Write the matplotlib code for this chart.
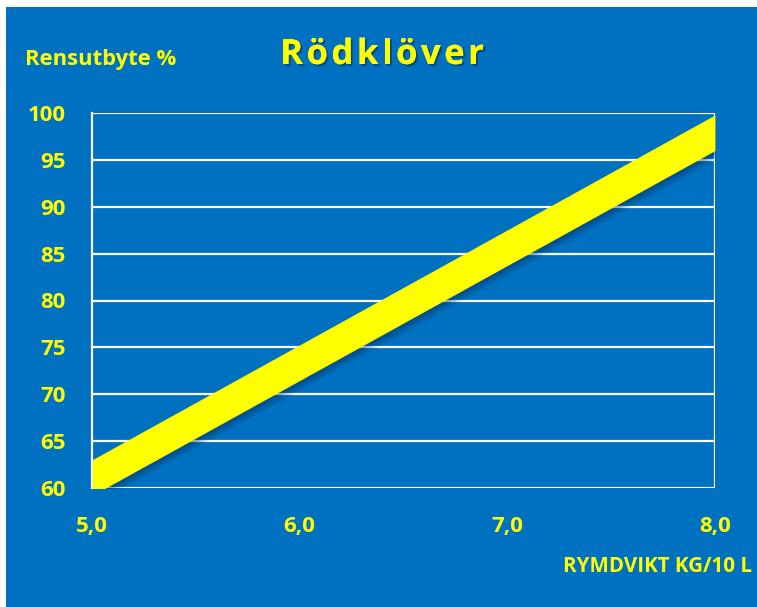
import numpy as np
import matplotlib
matplotlib.use('Agg')
import matplotlib.pyplot as plt
import matplotlib.patheffects as pe

# data
rymdvikt = [5.0, 8.0]
band_low = [59.2, 96.0]
band_high = [63.0, 99.8]
x_ticks = [5.0, 6.0, 7.0, 8.0]
x_labels = ["5,0", "6,0", "7,0", "8,0"]
y_ticks = [60, 65, 70, 75, 80, 85, 90, 95, 100]

BLUE = '#0070C0'
YELLOW = '#FFFF00'
FONT = 'Open Sans'
W, H = 757, 607

fig = plt.figure(figsize=(W / 100, H / 100), dpi=100)
fig.patch.set_facecolor('white')
# blue panel, leaving a thin white strip at top and left
bg = fig.add_axes([6/W, 0, 751/W, 600/H])
bg.set_facecolor(BLUE)
bg.set_xticks([]); bg.set_yticks([])
for s in bg.spines.values(): s.set_visible(False)

ax = fig.add_axes([92/W, 1 - 488/H, 623/W, 375/H])
ax.set_facecolor(BLUE)
ax.set_xlim(5.0, 8.0)
ax.set_ylim(60, 100)

for y in y_ticks:
    ax.axhline(y, color='white', lw=1.6, zorder=1)
ax.axvline(8.0, color='white', lw=1.6, zorder=1)
for s in ['top', 'right', 'bottom']:
    ax.spines[s].set_visible(False)
ax.spines['left'].set_color('white')
ax.spines['left'].set_linewidth(1.6)

# soft shadow under the band
xs = np.array(rymdvikt)
for k, a in [(0.9, 0.12), (0.6, 0.15), (0.3, 0.2)]:
    ax.fill_between(xs + 0.01, np.array(band_low) - k, np.array(band_high) - k,
                    color='#002a50', alpha=a, lw=0, zorder=2)
ax.fill_between(rymdvikt, band_low, band_high, color=YELLOW, lw=0, zorder=3)

ax.set_xticks(x_ticks)
ax.set_xticklabels(x_labels)
ax.set_yticks(y_ticks)
ax.tick_params(length=0, colors=YELLOW, labelsize=16)
ax.tick_params(axis='y', pad=19)
ax.tick_params(axis='x', pad=20)
for lab in ax.get_xticklabels() + ax.get_yticklabels():
    lab.set_fontweight('bold')
    lab.set_fontfamily(FONT)
    lab.set_color(YELLOW)

# title with letter spacing, one glyph at a time
title = 'Rödklöver'
renderer = fig.canvas.get_renderer()
shadow = [pe.withSimplePatchShadow(offset=(1.5, -1.5), shadow_rgbFace='#002a50', alpha=0.5), pe.Normal()]
widths = []
for ch in title:
    t = fig.text(0, 0, ch, fontsize=25, fontweight='bold', family=FONT)
    widths.append(t.get_window_extent(renderer).width)
    t.remove()
gap = 3.5
total = sum(widths) + gap * (len(title) - 1)
x0 = 382 - total / 2
for ch, w in zip(title, widths):
    fig.text(x0 / W, 1 - 55/H, ch, color=YELLOW, fontsize=25, fontweight='bold',
             family=FONT, ha='left', va='center', path_effects=shadow)
    x0 += w + gap

fig.text(25/W, 1 - 60/H, 'Rensutbyte %', color=YELLOW, fontsize=15.8,
         fontweight='bold', family=FONT, ha='left', va='center')
fig.text(752/W, 1 - 567/H, 'RYMDVIKT KG/10 L', color=YELLOW, fontsize=14.8,
         fontweight='bold', family=FONT, ha='right', va='center')

fig.savefig('out.png', dpi=100, facecolor=fig.get_facecolor())
